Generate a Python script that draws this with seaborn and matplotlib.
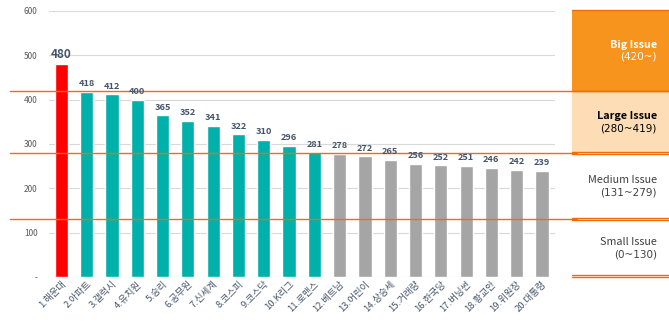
import matplotlib
matplotlib.use("Agg")
import matplotlib.pyplot as plt
import matplotlib.transforms as mtransforms
from matplotlib.patches import Rectangle
import seaborn as sns
import pandas as pd

keywords = ["1.해운대", "2.아파트", "3.갤럭시", "4.유치원", "5.승리", "6.공무원",
            "7.신세계", "8.코스피", "9.코스닥", "10.K리그", "11.로맨스", "12.베트남",
            "13.어린이", "14.상승세", "15.거래량", "16.한국당", "17.버닝썬",
            "18.황교안", "19.위원장", "20.대통령"]
counts = [480, 418, 412, 400, 365, 352, 341, 322, 310, 296, 281,
          278, 272, 265, 256, 252, 251, 246, 242, 239]
y_ticks = [0, 100, 200, 300, 400, 500, 600]
y_tick_labels = ["-", "100", "200", "300", "400", "500", "600"]

tier_names = ["Big Issue", "Large Issue", "Medium Issue", "Small Issue"]
tier_ranges = ["(420~)", "(280~419)", "(131~279)", "(0~130)"]
tier_bounds = [(420, 602), (280, 420), (130, 280), (0, 130)]

sns.set_theme(style="white")
plt.rcParams["font.family"] = ["Noto Sans CJK KR", "DejaVu Sans"]

RED = "#FF0000"
TEAL = "#00B0AA"
GRAY = "#A5A5A5"
ORANGE = "#F26B0F"


def tier_color(v, i):
    if i == 0:
        return RED
    if v >= 280:
        return TEAL
    return GRAY


df = pd.DataFrame({"keyword": keywords, "count": counts})
palette = {k: tier_color(v, i) for i, (k, v) in enumerate(zip(keywords, counts))}

fig = plt.figure(figsize=(6.69, 3.31), dpi=100)
ax = fig.add_axes([0.073, 0.163, 0.756, 0.804])

sns.barplot(data=df, x="keyword", y="count", hue="keyword", palette=palette,
            width=0.52, legend=False, ax=ax, saturation=1)

ax.set_ylim(0, 600)
ax.set_xlim(-0.5, len(keywords) - 0.5)
ax.set_yticks(y_ticks)
ax.set_yticklabels(y_tick_labels, fontsize=6, color="#595959")
ax.tick_params(axis="y", length=0, pad=8)
ax.tick_params(axis="x", length=0, pad=2)
ax.set_xticks(range(len(keywords)))
ax.set_xticklabels(keywords, rotation=45, ha="right", rotation_mode="anchor",
                   fontsize=6.8, color="#44546A")
ax.set_xlabel("")
ax.set_ylabel("")
for s in ax.spines.values():
    s.set_visible(False)
ax.grid(axis="y", color="#D9D9D9", linewidth=0.8)
ax.set_axisbelow(True)

# value labels above each bar
for i, v in enumerate(counts):
    ax.text(i, v + 8, str(v), ha="center", va="bottom",
            fontsize=8.5 if i == 0 else 6.6, fontweight="bold", color="#44546A")

# tier boundary lines spanning the figure
blend = mtransforms.blended_transform_factory(fig.transFigure, ax.transData)
ax.plot([0.015, 1.0], [420, 420], color=ORANGE, lw=1.0, transform=blend, clip_on=False)
ax.plot([0.015, 0.862], [280, 280], color=ORANGE, lw=1.0, transform=blend, clip_on=False)
ax.plot([0.015, 0.862], [130, 130], color=ORANGE, lw=1.0, transform=blend, clip_on=False)

# tier legend panel on the right
x0, x1 = 0.855, 1.0
fills = ["#F7941D", "#FDDDB5", "white", "white"]
text_cols = ["white", "black", "#404040", "#404040"]
weights = ["bold", "bold", "normal", "normal"]
for (lo, hi), fc, name, rng, tc, fw in zip(tier_bounds, fills, tier_names,
                                          tier_ranges, text_cols, weights):
    ax.add_patch(Rectangle((x0, lo), x1 - x0, hi - lo, transform=blend,
                           facecolor=fc, edgecolor="none", clip_on=False, zorder=0))
    mid = (lo + hi) / 2
    ax.text(0.982, mid + 13, name, transform=blend, ha="right", va="center",
            fontsize=7.8, color=tc, fontweight=fw, clip_on=False)
    ax.text(0.982, mid - 14, rng, transform=blend, ha="right", va="center",
            fontsize=7.5, color=tc, fontweight="normal", clip_on=False,
            family=["DejaVu Sans"])

for y in [602, 420, 281, 278, 132, 129, 4, 0]:
    ax.plot([x0, x1], [y, y], color=ORANGE, lw=1.0, transform=blend, clip_on=False)

fig.savefig("out.png", dpi=100)
